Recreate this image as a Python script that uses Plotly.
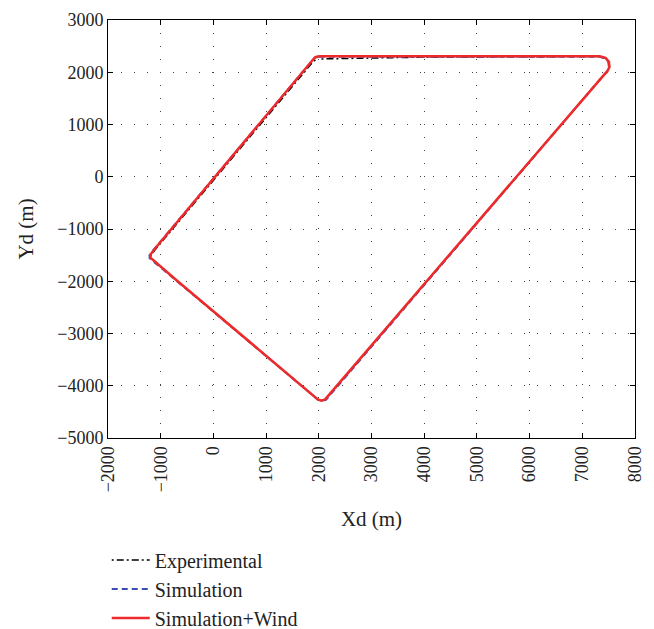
import plotly.graph_objects as go

# Trajectory vertices (m)
wind_x = [2000, 7330, 7440, 7505, 7515, 7470, 7420, 2200, 2120, 2050, 1980,
          -700, -1130, -1195, -1200, -1130, 1880, 1935, 2000]
wind_y = [2305, 2305, 2275, 2200, 2100, 2010, 1960, -4180, -4260, -4285, -4260,
          -1980, -1610, -1550, -1500, -1400, 2230, 2290, 2305]

sim_x = [2000, 7330, 7430, 7495, 7505, 7462, 7412, 2215, 2140, 2065, 1990,
         -700, -1140, -1210, -1212, -1140, 1875, 1930, 2000]
sim_y = [2295, 2295, 2265, 2192, 2095, 2004, 1952, -4175, -4265, -4292, -4270,
         -1990, -1620, -1560, -1500, -1405, 2222, 2282, 2295]

exp_x = [2050, 3300, 4000, 7330, 7440, 7505, 7515, 7470, 7420, 2200, 2120, 2050,
         1980, -700, -1130, -1190, -1185, -1100, 1890, 1950]
exp_y = [2255, 2275, 2290, 2302, 2272, 2200, 2100, 2010, 1960, -4180, -4260,
         -4285, -4260, -1980, -1610, -1550, -1500, -1390, 2200, 2250]

x_ticks = [-2000, -1000, 0, 1000, 2000, 3000, 4000, 5000, 6000, 7000, 8000]
y_ticks = [-5000, -4000, -3000, -2000, -1000, 0, 1000, 2000, 3000]
x_labels = ["\u22122000", "\u22121000", "0", "1000", "2000", "3000", "4000", "5000", "6000", "7000", "8000"]
y_labels = ["\u22125000", "\u22124000", "\u22123000", "\u22122000", "\u22121000", "0", "1000", "2000", "3000"]

FONT = "Liberation Serif"

fig = go.Figure()
fig.add_trace(go.Scatter(x=exp_x, y=exp_y, mode="lines", name="Experimental",
                         line=dict(color="black", width=1.5, dash="2px,3px,7px,3px")))
fig.add_trace(go.Scatter(x=sim_x, y=sim_y, mode="lines", name="Simulation",
                         line=dict(color="#3a4fb0", width=2, dash="6px,4px")))
fig.add_trace(go.Scatter(x=wind_x, y=wind_y, mode="lines", name="Simulation+Wind",
                         line=dict(color="#ee2a2a", width=2.5)))

axis_common = dict(showline=True, linecolor="black", linewidth=1, mirror="ticks",
                   ticks="inside", ticklen=5, tickcolor="black",
                   showgrid=True, gridcolor="#444444", gridwidth=1, griddash="1px,12px",
                   zeroline=False, automargin=False,
                   tickfont=dict(family=FONT, size=18, color="#222"))

fig.update_xaxes(range=[-2000, 8000], tickvals=x_ticks, ticktext=x_labels, tickangle=-90,
                 title=dict(text="Xd (m)", font=dict(family=FONT, size=21, color="#222"), standoff=19),
                 **axis_common)
fig.update_yaxes(range=[-5000, 3000], tickvals=y_ticks, ticktext=y_labels,
                 title=dict(text="Yd (m)", font=dict(family=FONT, size=21, color="#222"), standoff=17),
                 **axis_common)

# the page places the figure 8 px from the top-left corner of the window
fig.update_layout(
    width=646, height=621,
    margin=dict(l=100, r=19, t=12, b=191, autoexpand=False),
    plot_bgcolor="white", paper_bgcolor="white",
    font=dict(family=FONT, size=18, color="#222"),
    legend=dict(x=-0.0024, y=-0.245, xanchor="left", yanchor="top",
                font=dict(family=FONT, size=20, color="#222"),
                bgcolor="rgba(0,0,0,0)", itemwidth=38, tracegroupgap=0),
    showlegend=True,
)

fig.write_html("out.html")
